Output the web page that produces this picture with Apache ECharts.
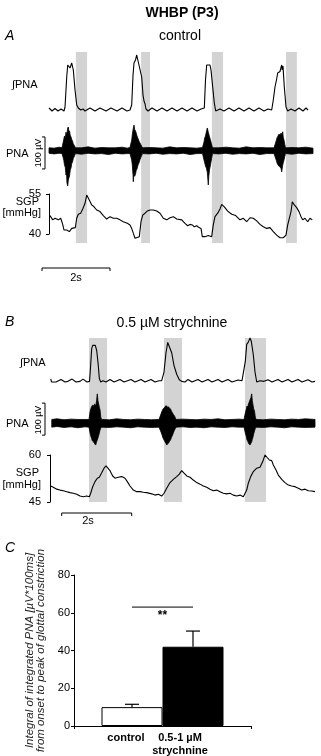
<!DOCTYPE html>
<html>
<head>
<meta charset="utf-8">
<script src="https://cdn.jsdelivr.net/npm/echarts@6/dist/echarts.min.js"></script>
<style>
html, body { margin: 0; padding: 0; background: #fff; }
#main { width: 321px; height: 756px; }
</style>
</head>
<body>
<div id="main"></div>
<script>
// ---- data (time in s, integrated PNA in a.u., PNA in µV, SGP in mmHg) ----
var bandsA = [[0.79, 1.12], [2.71, 2.97], [4.79, 5.12], [6.97, 7.29]];
var bandsB = [[1.114, 1.629], [3.257, 3.771], [5.571, 6.171]];

var intPnaA = [[0,4],[0.088,-2],[0.176,3],[0.265,-2],[0.353,2],[0.441,-2],[0.471,6],[0.521,66],[0.55,90],[0.568,94],[0.618,84],[0.668,94],[0.715,80],[0.765,40],[0.815,10],[0.862,4],[0.932,0],[1.0,2],[1.059,-2],[1.206,4],[1.353,-2],[1.5,4],[1.676,-2],[1.824,4],[2.0,-2],[2.147,4],[2.294,-2],[2.382,0],[2.432,10],[2.471,70],[2.5,94],[2.544,100],[2.579,110],[2.626,96],[2.676,92],[2.726,66],[2.765,30],[2.794,18],[2.824,12],[2.853,2],[2.912,-2],[3.029,4],[3.176,-2],[3.324,4],[3.471,-2],[3.618,4],[3.765,-2],[3.912,4],[4.059,-2],[4.206,4],[4.353,-2],[4.471,2],[4.529,-2],[4.568,4],[4.603,60],[4.638,90],[4.685,94],[4.735,90],[4.765,80],[4.803,54],[4.862,14],[4.903,-2],[5.029,2],[5.147,-2],[5.294,4],[5.441,-2],[5.588,4],[5.735,-2],[5.882,4],[6.029,-2],[6.176,4],[6.324,-2],[6.441,2],[6.55,0],[6.597,20],[6.647,46],[6.691,60],[6.726,74],[6.794,77],[6.844,90],[6.862,80],[6.882,88],[6.921,46],[6.971,6],[7.021,-2],[7.118,2],[7.235,-2],[7.353,4],[7.471,-2],[7.559,4],[7.618,0]];

// [time, lower envelope, upper envelope]
var pnaA = [[0,-8,9],[0.15,-10,8],[0.3,-8,11],[0.382,-9,9],
  [0.412,-20,24],[0.435,-30,36],[0.456,-45,46],[0.478,-52,40],[0.5,-76,58],[0.515,-70,50],[0.529,-101,55],[0.55,-110,71],[0.568,-92,74],[0.585,-85,60],[0.603,-79,62],[0.625,-60,48],[0.647,-54,43],[0.668,-40,35],[0.691,-35,30],[0.713,-25,22],[0.735,-20,18],[0.779,-9,9],
  [0.95,-11,9],[1.15,-8,12],[1.35,-10,8],[1.55,-9,10],[1.75,-12,9],[1.95,-8,9],[2.15,-10,11],[2.3,-9,8],[2.382,-9,10],
  [2.432,-29,33],[2.45,-45,50],[2.471,-76,65],[2.479,-97,70],[2.5,-67,80],[2.52,-80,66],[2.544,-73,62],[2.565,-62,55],[2.588,-57,46],[2.618,-45,38],[2.647,-38,30],[2.676,-28,24],[2.706,-20,18],[2.75,-9,9],
  [2.95,-10,10],[3.15,-8,9],[3.35,-11,8],[3.55,-9,12],[3.75,-10,9],[3.95,-8,10],[4.15,-12,9],[4.35,-9,8],[4.515,-9,10],
  [4.559,-29,27],[4.58,-38,40],[4.603,-48,46],[4.63,-55,60],[4.656,-67,71],[4.685,-107,58],[4.7,-80,52],[4.721,-60,43],[4.743,-48,36],[4.765,-35,27],[4.787,-22,18],[4.809,-9,9],
  [5.0,-10,9],[5.2,-8,11],[5.4,-11,9],[5.6,-9,8],[5.8,-10,12],[6.0,-8,9],[6.2,-12,10],[6.4,-9,9],[6.618,-9,9],
  [6.662,-23,24],[6.685,-30,32],[6.706,-38,40],[6.735,-45,46],[6.765,-48,52],[6.795,-52,48],[6.824,-54,55],[6.844,-66,50],[6.874,-45,59],[6.89,-38,42],[6.912,-29,33],[6.935,-18,20],[6.956,-9,9],
  [7.15,-11,10],[7.35,-8,9],[7.55,-10,11],[7.765,-9,8]];

var sgpA = [[0.029,46.9],[0.109,45.3],[0.176,45.9],[0.274,45.3],[0.344,45.9],[0.403,43.6],[0.441,41.5],[0.521,41.5],[0.597,40.9],[0.668,42.1],[0.715,42.4],[0.774,42.4],[0.815,45.9],[0.862,47.4],[0.932,47.8],[0.991,49.4],[1.059,51.5],[1.109,54.6],[1.126,55.3],[1.185,52.75],[1.256,50.9],[1.324,50.2],[1.403,49.0],[1.5,48.4],[1.597,46.9],[1.697,45.6],[1.794,46.5],[1.891,45.9],[1.991,45.9],[2.088,45.3],[2.185,44.6],[2.303,44.0],[2.382,43.4],[2.432,42.1],[2.479,40.3],[2.529,38.4],[2.579,39.0],[2.656,39.0],[2.706,44.6],[2.756,47.1],[2.824,47.8],[2.891,48.6],[2.971,49.0],[3.068,49.0],[3.168,48.6],[3.265,47.8],[3.362,45.9],[3.462,45.3],[3.559,46.1],[3.656,46.5],[3.756,45.6],[3.803,45.9],[3.903,45.3],[4.0,44.0],[4.079,43.1],[4.147,43.6],[4.215,43.4],[4.274,42.7],[4.344,43.1],[4.412,42.4],[4.471,42.1],[4.509,39.0],[4.588,39.0],[4.685,39.4],[4.785,39.0],[4.832,43.4],[4.882,46.5],[4.962,47.8],[5.029,49.4],[5.079,51.1],[5.156,50.2],[5.256,48.6],[5.374,47.4],[5.491,46.9],[5.618,45.3],[5.715,45.9],[5.815,44.6],[5.912,46.1],[6.009,45.9],[6.109,44.9],[6.206,43.6],[6.303,42.7],[6.403,42.1],[6.5,42.4],[6.597,40.9],[6.697,39.6],[6.794,38.6],[6.891,38.6],[6.971,39.6],[7.021,43.4],[7.068,42.7],[7.118,48.4],[7.156,52.1],[7.215,50.9],[7.285,49.9],[7.353,48.4],[7.412,46.5],[7.462,45.3],[7.529,45.9],[7.609,44.6],[7.676,45.9],[7.744,45.3]];

var intPnaB = [[0.02,10],[0.043,0],[0.171,0],[0.314,8],[0.429,0],[0.514,2],[0.629,9],[0.743,0],[0.857,2],[0.943,9],[1.057,0],[1.129,2],[1.157,44],[1.191,104],[1.22,114],[1.266,119],[1.294,114],[1.334,98],[1.38,51],[1.409,11],[1.449,0],[1.514,4],[1.6,0],[1.714,8],[1.829,0],[2.0,8],[2.114,0],[2.314,8],[2.429,0],[2.6,8],[2.714,0],[2.886,8],[3.0,0],[3.114,4],[3.191,4],[3.257,31],[3.314,91],[3.363,123],[3.409,117],[3.477,91],[3.543,51],[3.62,24],[3.694,7],[3.763,2],[3.857,0],[3.943,8],[4.057,0],[4.229,8],[4.343,0],[4.514,8],[4.629,0],[4.8,8],[4.914,0],[5.086,8],[5.2,0],[5.371,6],[5.486,4],[5.543,4],[5.58,64],[5.62,117],[5.666,124],[5.714,137],[5.751,127],[5.809,84],[5.857,31],[5.906,0],[6.0,4],[6.114,2],[6.229,7],[6.343,0],[6.514,8],[6.629,0],[6.8,8],[6.914,0],[7.086,8],[7.2,0],[7.371,7],[7.486,0],[7.571,2]];

var pnaB = [[0.05,-12,12],[0.2,-10,14],[0.4,-13,11],[0.6,-11,13],[0.8,-14,12],[1.0,-11,12],[1.114,-12,12],
  [1.143,-30,35],[1.165,-40,45],[1.186,-46,51],[1.21,-55,56],[1.229,-55,57],[1.25,-60,52],[1.271,-62,60],[1.29,-66,58],[1.306,-68,54],[1.33,-58,70],[1.351,-52,92],[1.37,-46,70],[1.386,-40,63],[1.41,-30,50],[1.429,-21,42],[1.45,-15,20],[1.471,-12,12],
  [1.7,-13,11],[1.9,-11,14],[2.1,-12,12],[2.3,-14,11],[2.5,-11,13],[2.7,-12,12],[2.9,-13,11],[3.114,-12,12],
  [3.171,-27,29],[3.2,-36,38],[3.229,-46,45],[3.257,-52,48],[3.286,-58,51],[3.31,-62,55],[3.334,-68,54],[3.36,-64,50],[3.386,-62,51],[3.415,-56,48],[3.443,-52,45],[3.47,-44,38],[3.5,-37,32],[3.53,-28,27],[3.557,-21,23],[3.6,-12,12],
  [3.8,-11,13],[4.0,-13,12],[4.2,-12,11],[4.4,-14,13],[4.6,-11,12],[4.8,-12,14],[5.0,-13,11],[5.2,-11,12],[5.4,-12,13],[5.543,-12,12],
  [5.586,-33,35],[5.61,-42,45],[5.629,-52,54],[5.65,-56,50],[5.671,-62,60],[5.69,-65,66],[5.714,-68,73],[5.74,-62,80],[5.763,-58,92],[5.78,-50,70],[5.8,-43,57],[5.82,-33,45],[5.843,-24,38],[5.865,-16,20],[5.886,-12,12],
  [6.1,-13,11],[6.3,-11,13],[6.5,-12,12],[6.7,-14,11],[6.9,-11,13],[7.1,-12,12],[7.3,-13,14],[7.571,-12,12]];

var sgpB = [[0.02,50.1],[0.094,49.7],[0.191,49.1],[0.286,48.8],[0.38,48.6],[0.477,48.3],[0.571,48.0],[0.666,47.8],[0.763,47.5],[0.857,46.9],[0.951,46.7],[1.049,46.9],[1.123,46.7],[1.163,47.8],[1.22,49.9],[1.286,51.5],[1.351,52.6],[1.409,52.9],[1.477,54.3],[1.543,55.8],[1.6,56.5],[1.649,56.3],[1.714,55.0],[1.791,53.3],[1.857,52.6],[1.951,52.9],[2.049,53.1],[2.143,52.6],[2.209,51.5],[2.286,50.1],[2.38,48.8],[2.477,48.3],[2.571,48.3],[2.666,48.1],[2.763,48.0],[2.906,47.6],[3.0,47.2],[3.094,47.5],[3.191,46.9],[3.257,47.8],[3.334,49.4],[3.429,51.2],[3.523,52.2],[3.62,53.1],[3.694,53.9],[3.763,55.0],[3.829,54.2],[3.906,53.3],[4.0,52.9],[4.094,52.0],[4.191,51.2],[4.286,50.7],[4.38,50.1],[4.477,49.7],[4.571,49.1],[4.666,48.6],[4.763,48.8],[4.857,48.3],[4.951,47.8],[5.049,47.6],[5.143,47.8],[5.237,47.2],[5.334,46.9],[5.429,47.2],[5.523,46.7],[5.571,46.5],[5.62,48.8],[5.666,51.0],[5.734,53.1],[5.809,54.7],[5.906,55.8],[6.0,56.1],[6.077,57.9],[6.143,60.0],[6.191,59.5],[6.266,58.4],[6.334,58.2],[6.38,56.8],[6.457,55.2],[6.523,53.6],[6.62,52.2],[6.714,51.2],[6.809,50.4],[6.906,50.1],[7.0,49.9],[7.094,49.4],[7.191,48.8],[7.286,49.1],[7.38,48.6],[7.477,48.5],[7.571,48.3]];

var sgpTicksA = [40, 55];
var sgpTicksB = [45, 60];
var timeBarSec = 2;
var pnaBarUV = 100;

var barCats = ['control', '0.5-1 µM\nstrychnine'];
var barMeans = [10, 42];
var barSem = [1.5, 8.3];
var sigLevel = 63;
var sigMark = '**';

// ---- layout ----
var FONT = '"Liberation Sans", Arial, sans-serif';
var panels = [
  { xMin: -0.118, xMax: 7.765, right: 8,
    band: { top: 52, h: 191 }, integ: { top: 52, h: 63, min: -10, max: 116 },
    pna: { top: 112.3, h: 76.8 }, sgp: { top: 194, h: 40, ticks: sgpTicksA },
    bands: bandsA, integData: intPnaA, pnaData: pnaA, sgpData: sgpA,
    pnaBarLo: -57, timeBarStart: -0.206, timeBarGap: 34 },
  { xMin: -0.143, xMax: 7.571, right: 6,
    band: { top: 338, h: 164 }, integ: { top: 337, h: 48.2, min: -10, max: 140 },
    pna: { top: 384.9, h: 76.8 }, sgp: { top: 455, h: 47, ticks: sgpTicksB },
    bands: bandsB, integData: intPnaB, pnaData: pnaB, sgpData: sgpB,
    pnaBarLo: -37, timeBarStart: 0.334, timeBarGap: 11 }
];

var grid = [], xAxis = [], yAxis = [], series = [];
function hiddenX(p, gi) {
  return { type: 'value', gridIndex: gi, min: p.xMin, max: p.xMax, show: false };
}
function hiddenY(gi, min, max) {
  return { type: 'value', gridIndex: gi, min: min, max: max, show: false };
}
var traceLine = { color: '#000', width: 1.1 };

panels.forEach(function (p) {
  var g0 = grid.length;
  // bands grid, integrated PNA, PNA, SGP
  [p.band, p.integ, p.pna, p.sgp].forEach(function (b) {
    grid.push({ left: 45, right: p.right, top: b.top, height: b.h });
    xAxis.push(hiddenX(p, grid.length - 1));
  });
  yAxis.push(hiddenY(g0, 0, 1));
  yAxis.push(hiddenY(g0 + 1, p.integ.min, p.integ.max));
  yAxis.push(hiddenY(g0 + 2, -120, 120));
  yAxis.push({
    type: 'value', gridIndex: g0 + 3, min: p.sgp.ticks[0], max: p.sgp.ticks[1],
    axisLine: { show: true, lineStyle: { color: '#000', width: 1 } },
    axisTick: { show: true, length: 3, customValues: p.sgp.ticks, lineStyle: { color: '#000' } },
    axisLabel: { customValues: p.sgp.ticks, color: '#000', fontSize: 11, fontFamily: FONT, margin: 4 },
    splitLine: { show: false }
  });

  series.push({
    type: 'custom', xAxisIndex: g0, yAxisIndex: g0, z: 1, silent: true,
    data: p.bands, encode: { x: [0, 1] },
    renderItem: function (params, api) {
      var cs = params.coordSys;
      var x0 = api.coord([api.value(0), 0])[0];
      var x1 = api.coord([api.value(1), 0])[0];
      return { type: 'rect', shape: { x: x0, y: cs.y, width: x1 - x0, height: cs.height },
        style: { fill: '#d3d3d3' } };
    }
  });
  series.push({
    type: 'line', xAxisIndex: g0 + 1, yAxisIndex: g0 + 1, z: 3, data: p.integData,
    symbol: 'none', clip: false, lineStyle: traceLine
  });
  var env = p.pnaData;
  series.push({
    type: 'custom', xAxisIndex: g0 + 2, yAxisIndex: g0 + 2, z: 3, silent: true,
    data: env, encode: { x: 0, y: [1, 2] }, clip: false,
    renderItem: function (params, api) {
      if (params.dataIndex !== 0) return null;
      var pts = [], i;
      for (i = 0; i < env.length; i++) pts.push(api.coord([env[i][0], env[i][2]]));
      for (i = env.length - 1; i >= 0; i--) pts.push(api.coord([env[i][0], env[i][1]]));
      return { type: 'polygon', shape: { points: pts },
        style: { fill: '#000', stroke: '#000', lineWidth: 0.8 } };
    }
  });
  // 100 µV scale bar
  series.push({
    type: 'custom', xAxisIndex: g0 + 2, yAxisIndex: g0 + 2, z: 3, silent: true, clip: false,
    data: [[p.xMin, p.pnaBarLo, p.pnaBarLo + pnaBarUV]], encode: { x: 0, y: [1, 2] },
    renderItem: function (params, api) {
      var a = api.coord([api.value(0), api.value(1)]);
      var b = api.coord([api.value(0), api.value(2)]);
      return { type: 'polyline',
        shape: { points: [[a[0] - 3, a[1]], [a[0], a[1]], [b[0], b[1]], [b[0] - 3, b[1]]] },
        style: { stroke: '#000', lineWidth: 1, fill: null } };
    }
  });
  series.push({
    type: 'line', xAxisIndex: g0 + 3, yAxisIndex: g0 + 3, z: 3, data: p.sgpData,
    symbol: 'none', clip: false, lineStyle: traceLine
  });
  // 2 s scale bar
  var gap = p.timeBarGap;
  series.push({
    type: 'custom', xAxisIndex: g0 + 3, yAxisIndex: g0 + 3, z: 3, silent: true, clip: false,
    data: [[p.timeBarStart, p.timeBarStart + timeBarSec]], encode: { x: [0, 1] },
    renderItem: function (params, api) {
      var cs = params.coordSys;
      var y = cs.y + cs.height + gap;
      var x0 = api.coord([api.value(0), 0])[0];
      var x1 = api.coord([api.value(1), 0])[0];
      return { type: 'polyline',
        shape: { points: [[x0, y + 3], [x0, y], [x1, y], [x1, y + 3]] },
        style: { stroke: '#000', lineWidth: 1, fill: null } };
    }
  });
});

// ---- panel C bar chart ----
var gc = grid.length;
grid.push({ left: 74, right: 70, top: 575, height: 151 });
xAxis.push({
  type: 'category', gridIndex: gc, data: [''],
  axisLine: { lineStyle: { color: '#000', width: 1 } },
  axisTick: { show: true, length: 3, lineStyle: { color: '#000' } },
  axisLabel: { show: false }
});
yAxis.push({
  type: 'value', gridIndex: gc, min: 0, max: 80, interval: 20,
  axisLine: { show: true, lineStyle: { color: '#000', width: 1 } },
  axisTick: { show: true, length: 3, lineStyle: { color: '#000' } },
  axisLabel: { color: '#000', fontSize: 11, fontFamily: FONT, margin: 4 },
  splitLine: { show: false },
  name: 'Integral of integrated PNA [µV*100ms]\nfrom onset to peak of glottal constriction',
  nameLocation: 'middle', nameRotate: 90, nameGap: 23,
  nameTextStyle: { fontStyle: 'italic', fontSize: 11.5, lineHeight: 11, color: '#222', fontFamily: FONT }
});
var BAR_W = 61;
var labelShift = [-6, -13];
barMeans.forEach(function (m, i) {
  series.push({
    type: 'bar', xAxisIndex: gc, yAxisIndex: gc, data: [m], barWidth: BAR_W, barGap: '0%',
    itemStyle: { color: i === 0 ? '#fff' : '#000', borderColor: '#000', borderWidth: 1 },
    label: { show: true, position: 'bottom', distance: 5, offset: [labelShift[i], 0],
      formatter: barCats[i], color: '#000', fontWeight: 'bold', fontSize: 11, lineHeight: 13, fontFamily: FONT },
    z: 2
  });
});
series.push({
  type: 'custom', xAxisIndex: gc, yAxisIndex: gc, z: 4, silent: true,
  data: barMeans.map(function (m, i) { return [0, m, m + barSem[i], i === 0 ? -1 : 1]; }),
  encode: { x: 0, y: [1, 2] },
  renderItem: function (params, api) {
    var b = api.coord([api.value(0), api.value(1)]);
    var t = api.coord([api.value(0), api.value(2)]);
    var x = b[0] + api.value(3) * BAR_W / 2;
    return { type: 'group', children: [
      { type: 'line', shape: { x1: x, y1: b[1], x2: x, y2: t[1] }, style: { stroke: '#000', lineWidth: 1.2 } },
      { type: 'line', shape: { x1: x - 7, y1: t[1], x2: x + 7, y2: t[1] }, style: { stroke: '#000', lineWidth: 1.2 } }
    ] };
  }
});
series.push({
  type: 'custom', xAxisIndex: gc, yAxisIndex: gc, z: 4, silent: true,
  data: [[0, sigLevel]], encode: { x: 0, y: 1 },
  renderItem: function (params, api) {
    var c = api.coord([api.value(0), api.value(1)]);
    return { type: 'group', children: [
      { type: 'line', shape: { x1: c[0] - BAR_W / 2, y1: c[1], x2: c[0] + BAR_W / 2, y2: c[1] },
        style: { stroke: '#000', lineWidth: 1 } },
      { type: 'text', x: c[0], y: c[1] + 9,
        style: { text: sigMark, textAlign: 'center', textVerticalAlign: 'middle',
          font: 'bold 12px ' + FONT, fill: '#000' } }
    ] };
  }
});

// ---- text annotations ----
function txt(s, x, y, font, align, rot) {
  return { type: 'text', x: x, y: y, rotation: rot || 0, silent: true,
    style: { text: s, font: font, fill: '#000', textAlign: align || 'left', textVerticalAlign: 'middle' } };
}
var F11 = '11px ' + FONT;
var graphic = [
  txt('WHBP (P3)', 182, 13, 'bold 14px ' + FONT, 'center'),
  txt('A', 5, 36, 'italic 14px ' + FONT),
  txt('control', 180, 36, '14px ' + FONT, 'center'),
  txt('\u222BPNA', 12, 85, F11),
  txt('PNA', 6, 154, F11),
  txt('100 \u00B5V', 39, 153, '9px ' + FONT, 'center', Math.PI / 2),
  txt('SGP', 39, 202, F11, 'right'),
  txt('[mmHg]', 41, 213, F11, 'right'),
  txt('2s', 76, 278, F11, 'center'),
  txt('B', 5, 322, 'italic 14px ' + FONT),
  txt('0.5 \u00B5M strychnine', 172, 323, '14px ' + FONT, 'center'),
  txt('\u222BPNA', 20, 363, F11),
  txt('PNA', 6, 424, F11),
  txt('100 \u00B5V', 39, 420, '9px ' + FONT, 'center', Math.PI / 2),
  txt('SGP', 39, 473, F11, 'right'),
  txt('[mmHg]', 41, 485, F11, 'right'),
  txt('2s', 88, 521, F11, 'center'),
  txt('C', 5, 548, 'italic 14px ' + FONT)
];

var chart = echarts.init(document.getElementById('main'), null, { renderer: 'canvas' });
chart.setOption({
  animation: false,
  backgroundColor: '#fff',
  textStyle: { fontFamily: FONT },
  grid: grid,
  xAxis: xAxis,
  yAxis: yAxis,
  series: series,
  graphic: graphic
});
</script>
</body>
</html>
